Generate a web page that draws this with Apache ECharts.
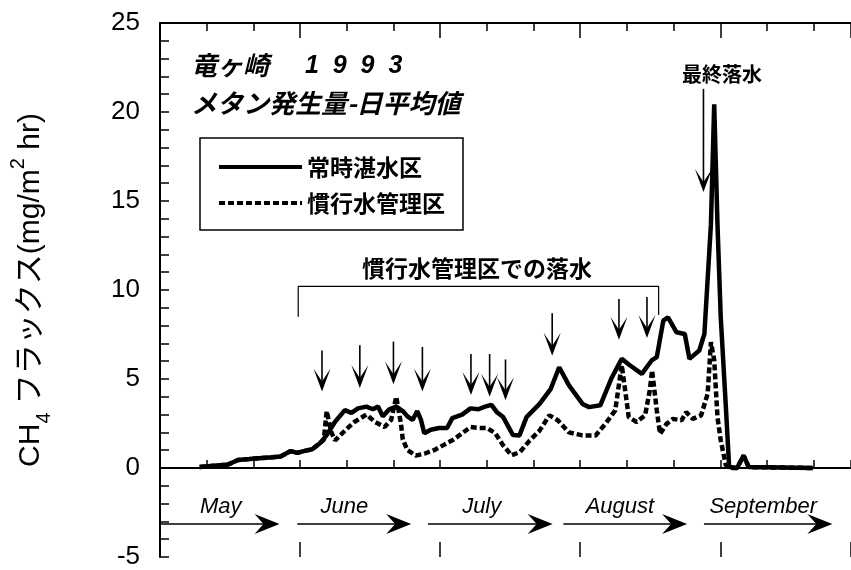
<!DOCTYPE html>
<html>
<head>
<meta charset="utf-8">
<script src="https://cdn.jsdelivr.net/npm/echarts@6/dist/echarts.min.js"></script>
<style>
  html, body { margin: 0; padding: 0; background: #fff; }
  #chart { width: 851px; height: 570px; }
</style>
</head>
<body>
<div id="chart"></div>
<script>
// x = days counted from 1 May 1993, y = CH4 flux (mg/m2 hr)
const floodDays = [8.5, 14.6, 16.7, 19.1, 21.2, 24.1, 25.8, 28.0, 29.4, 30.8, 32.6, 34.3, 35.7, 37.5, 39.6,
  41.0, 42.4, 44.2, 45.6, 46.7, 47.7, 49.1, 50.6, 52.0, 53.0, 54.1, 55.1, 55.9, 56.6, 58.0, 59.8, 61.5,
  62.6, 64.7, 66.5, 68.2, 69.6, 71.0, 72.1, 73.5, 75.6, 77.0, 78.5, 81.3, 83.7, 85.5, 87.6, 90.5, 91.9,
  94.3, 96.8, 98.9, 100.7, 103.2, 105.3, 106.4, 107.8, 108.8, 110.6, 112.4, 113.4, 115.5, 116.6, 118.0,
  118.7, 119.4, 120.1, 121.2, 121.9, 123.6, 125.0, 126.1, 139.8];
const floodFlux = [0.05, 0.2, 0.45, 0.5, 0.55, 0.6, 0.65, 0.95, 0.85, 0.95, 1.05, 1.4, 1.85, 2.6, 3.25,
  3.1, 3.35, 3.45, 3.3, 3.45, 2.9, 3.3, 3.45, 3.2, 2.9, 2.7, 3.2, 2.7, 1.95, 2.15, 2.25, 2.25,
  2.8, 3.0, 3.35, 3.3, 3.45, 3.55, 3.15, 2.86, 1.85, 1.83, 2.86, 3.6, 4.45, 5.66, 4.64, 3.6, 3.42,
  3.52, 5.1, 6.13, 5.76, 5.29, 6.04, 6.23, 8.28, 8.47, 7.63, 7.53, 6.13, 6.6, 7.53, 13.7,
  20.43, 13.7, 8.47, 3.42, 0.05, 0.0, 0.7, 0.05, 0.0];

const convDays = [8.5, 14.6, 16.7, 19.1, 21.2, 24.1, 25.8, 28.0, 29.4, 30.8, 32.6, 34.3, 35.1, 35.7, 36.7,
  37.5, 39.6, 41.7, 44.2, 46.0, 48.1, 49.5, 50.6, 51.6, 52.0, 53.0, 54.8, 56.6, 58.7, 60.8, 62.9, 64.7,
  66.5, 68.2, 70.0, 71.8, 73.5, 75.3, 77.1, 79.2, 81.3, 83.4, 85.2, 87.6, 90.5, 93.3, 95.4, 97.5, 98.9,
  100.4, 102.1, 103.9, 104.9, 105.4, 106.4, 107.1, 108.5, 109.9, 111.7, 112.7, 114.1, 115.9, 117.3,
  118.0, 118.7, 119.4, 120.1, 121.2, 122.2, 123.6, 125.0, 126.1, 139.8];
const convFlux = [0.05, 0.2, 0.45, 0.5, 0.55, 0.6, 0.65, 0.95, 0.85, 0.95, 1.05, 1.4, 1.6, 3.2, 2.0,
  1.55, 2.1, 2.6, 3.0, 2.6, 2.3, 2.7, 4.0, 2.5, 1.6, 1.0, 0.7, 0.8, 1.0, 1.3, 1.6, 1.95,
  2.3, 2.25, 2.25, 1.95, 1.27, 0.71, 0.9, 1.55, 2.1, 2.96, 2.68, 2.0, 1.83, 1.83, 2.48, 3.24, 5.78,
  2.86, 2.58, 2.96, 4.36, 5.48, 3.24, 1.92, 2.48, 2.76, 2.68, 3.14, 2.76, 2.96, 4.17,
  7.07, 6.06, 2.86, 1.55, 0.15, 0.0, 0.0, 0.7, 0.05, 0.0];

// drainage arrows of the conventional plot
const dropDays = [34.7, 42.8, 50.0, 56.2, 66.6, 70.6, 74.0, 84.0, 98.3, 104.3];
const dropTop = [6.6, 6.9, 7.1, 6.8, 6.4, 6.4, 6.1, 8.7, 9.5, 9.6];
const dropTip = [4.3, 4.5, 4.7, 4.3, 4.1, 4.0, 3.8, 6.3, 7.2, 7.3];
// final drainage arrow
const finalDay = [116.4];
const finalTop = [21.3];
const finalTip = [15.5];

// bracket over the drainage period
const bracketDays = [29.6, 29.6, 106.8, 106.8];
const bracketFlux = [8.5, 10.2, 10.2, 8.6];

// month arrows along the bottom
const monthNames = ['May', 'June', 'July', 'August', 'September'];
const monthStart = [0, 29.4, 57.4, 86.4, 116.5];
const monthEnd = [25.6, 53.8, 84.1, 112.9, 144.0];
const monthLabelDay = [13.0, 39.5, 68.9, 98.5, 129.2];
const monthArrowY = -3.15;
const monthLabelY = -2.2;

const latin = "'Liberation Sans', Arial, 'Noto Sans CJK JP', sans-serif";
const jp = "'Noto Sans CJK JP', sans-serif";

const chart = echarts.init(document.getElementById('chart'));

const tickLine = { color: '#000', width: 1.5 };
const xAxisBase = {
  type: 'value', min: 0, max: 148,
  axisLabel: { show: false },
  splitLine: { show: false }
};

const arrowHead = (x, y, w, h, notch) => ({
  type: 'polygon',
  shape: { points: [[x, y], [x - w, y - h], [x, y - notch], [x + w, y - h]] },
  style: { fill: '#000' }
});

const renderDrop = (params, api) => {
  const top = api.coord([api.value(0), api.value(1)]);
  const tip = api.coord([api.value(0), api.value(2)]);
  return {
    type: 'group',
    children: [
      { type: 'line', shape: { x1: top[0], y1: top[1], x2: tip[0], y2: tip[1] - 6 }, style: { stroke: '#000', lineWidth: 1.6 } },
      arrowHead(tip[0], tip[1], 8.5, 23, 10)
    ]
  };
};

chart.setOption({
  animation: false,
  backgroundColor: '#fff',
  grid: { left: 153, right: 0, top: 23, bottom: 12 },
  xAxis: [
    Object.assign({}, xAxisBase, { position: 'bottom', interval: 10,
      axisLine: { show: true, lineStyle: { color: '#000', width: 2 } },
      axisTick: { show: true, inside: true, length: 8, lineStyle: tickLine } }),
    Object.assign({}, xAxisBase, { position: 'bottom', interval: 30,
      axisLine: { show: false },
      axisTick: { show: true, inside: true, length: 15, lineStyle: tickLine } }),
    Object.assign({}, xAxisBase, { position: 'top', interval: 10,
      axisLine: { show: true, lineStyle: { color: '#000', width: 2 } },
      axisTick: { show: true, inside: true, length: 8, lineStyle: tickLine } }),
    Object.assign({}, xAxisBase, { position: 'top', interval: 30,
      axisLine: { show: false },
      axisTick: { show: true, inside: true, length: 15, lineStyle: tickLine } })
  ],
  yAxis: {
    type: 'value', min: -5, max: 25, interval: 5,
    axisLine: { show: true, lineStyle: { color: '#000', width: 2 } },
    axisTick: { show: true, inside: true, length: 9, lineStyle: tickLine },
    minorTick: { show: true, splitNumber: 5, length: 9, lineStyle: tickLine },
    splitLine: { show: false },
    axisLabel: { color: '#000', fontSize: 26, fontFamily: latin, margin: 20 },
    name: '{t|CH}{sub|4}{t| フラックス(mg/m}{sup|2}{t| hr)}',
    nameLocation: 'middle',
    nameRotate: 90,
    nameGap: 106,
    nameTextStyle: {
      color: '#000',
      rich: {
        t: { fontSize: 30, fontFamily: latin, lineHeight: 46, color: '#000' },
        sub: { fontSize: 20, fontFamily: latin, lineHeight: 46, verticalAlign: 'bottom', color: '#000' },
        sup: { fontSize: 20, fontFamily: latin, lineHeight: 46, verticalAlign: 'top', color: '#000' }
      }
    }
  },
  legend: {
    left: 200, top: 138,
    orient: 'vertical',
    data: ['常時湛水区', '慣行水管理区'],
    borderColor: '#000', borderWidth: 1.5, borderRadius: 0,
    padding: [16, 18, 14, 17],
    itemWidth: 83, itemHeight: 20, itemGap: 10,
    itemStyle: { opacity: 0, borderWidth: 0 },
    lineStyle: { width: 4 },
    textStyle: { fontSize: 23, fontWeight: 'bold', fontFamily: jp, color: '#000', lineHeight: 26 }
  },
  graphic: [
    { type: 'text', left: 191, top: 52, style: { text: '竜ヶ崎', fontSize: 26, fontStyle: 'italic', fontWeight: 'bold', fontFamily: jp, fill: '#000' } },
    { type: 'text', left: 305, top: 54, style: { text: '1  9  9  3', fontSize: 25, fontStyle: 'italic', fontWeight: 'bold', fontFamily: latin, fill: '#000' } },
    { type: 'text', left: 191, top: 90, style: { text: 'メタン発生量-日平均値', fontSize: 26, fontStyle: 'italic', fontWeight: 'bold', fontFamily: jp, fill: '#000' } },
    { type: 'text', left: 362, top: 257, style: { text: '慣行水管理区での落水', fontSize: 23, fontWeight: 'bold', fontFamily: jp, fill: '#000' } },
    { type: 'text', left: 682, top: 64, style: { text: '最終落水', fontSize: 20, fontWeight: 'bold', fontFamily: jp, fill: '#000' } }
  ],
  series: [
    {
      name: '常時湛水区', type: 'line', symbol: 'none',
      data: floodDays.map((d, i) => [d, floodFlux[i]]),
      lineStyle: { color: '#000', width: 4.5, type: 'solid' },
      itemStyle: { color: '#000' },
      z: 4,
      markLine: {
        silent: true, symbol: ['none', 'none'], label: { show: false },
        lineStyle: { color: '#000', width: 1.5, type: 'solid' },
        data: [{ yAxis: 0 }]
      }
    },
    {
      name: '慣行水管理区', type: 'line', symbol: 'none',
      data: convDays.map((d, i) => [d, convFlux[i]]),
      lineStyle: { color: '#000', width: 4.5, type: [6, 3] },
      itemStyle: { color: '#000' },
      z: 3
    },
    {
      type: 'line', symbol: 'none', silent: true,
      data: bracketDays.map((d, i) => [d, bracketFlux[i]]),
      lineStyle: { color: '#000', width: 1.2 }
    },
    {
      type: 'custom', silent: true,
      encode: { x: 0, y: [1, 2] },
      data: dropDays.map((d, i) => [d, dropTop[i], dropTip[i]]),
      renderItem: renderDrop
    },
    {
      type: 'custom', silent: true,
      encode: { x: 0, y: [1, 2] },
      data: finalDay.map((d, i) => [d, finalTop[i], finalTip[i]]),
      renderItem: renderDrop
    },
    {
      type: 'custom', silent: true,
      encode: { x: [0, 1], y: 2 },
      data: monthNames.map((m, i) => [monthStart[i], monthEnd[i], monthArrowY, monthLabelDay[i], monthLabelY, i]),
      renderItem: (params, api) => {
        const a = api.coord([api.value(0), api.value(2)]);
        const b = api.coord([api.value(1), api.value(2)]);
        const t = api.coord([api.value(3), api.value(4)]);
        return {
          type: 'group',
          children: [
            { type: 'line', shape: { x1: a[0], y1: a[1], x2: b[0] - 6, y2: b[1] }, style: { stroke: '#000', lineWidth: 1.6 } },
            { type: 'polygon', shape: { points: [[b[0], b[1]], [b[0] - 25, b[1] - 10], [b[0] - 16, b[1]], [b[0] - 25, b[1] + 10]] }, style: { fill: '#000' } },
            { type: 'text', x: t[0], y: t[1], style: { text: monthNames[api.value(5)], fontSize: 22, fontStyle: 'italic', fontFamily: latin, fill: '#000', align: 'center', verticalAlign: 'middle' } }
          ]
        };
      }
    }
  ]
});
</script>
</body>
</html>
